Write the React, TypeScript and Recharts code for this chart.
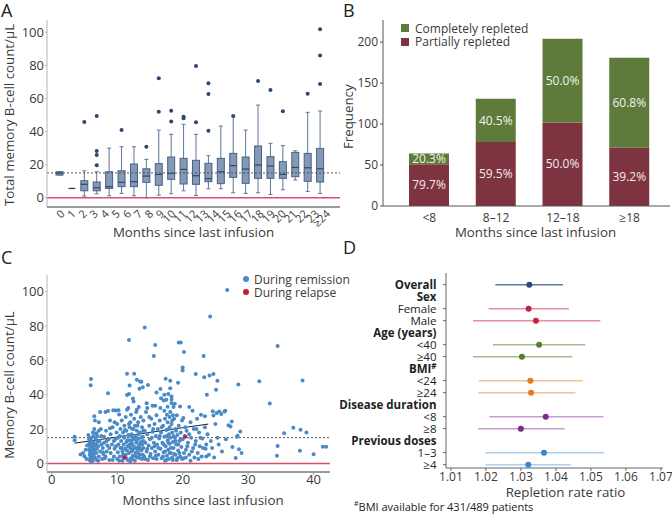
import React from 'react'
import {
  ComposedChart, BarChart, ScatterChart, Bar, Scatter, XAxis, YAxis,
  ReferenceLine, ErrorBar, LabelList, Legend, Label,
} from 'recharts'

const FONT = '"Open Sans", "Noto Sans", sans-serif'
const INK = '#3a3a3a'
const AXIS_GRAY = '#9a9a9a'
const ZERO_RED = '#d8506a'

// ---------- A: box plots by month ----------
const monthLabels = ['0', '1', '2', '3', '4', '5', '6', '7', '8', '9', '10', '11', '12', '13', '14', '15', '16', '17', '18', '19', '20', '21', '22', '23', '≥24']
const boxLow = [13.7, 5.5, 1.0, 2.4, 1.2, 2.6, 1.2, 0.0, 1.6, 2.4, 4.2, 1.4, 5.4, 5.4, 3.0, 2.6, 3.0, 2.0, 4.8, 10.7, 3.8, 2.6]
const boxQ1 = [13.7, 5.6, 4.2, 4.2, 5.6, 6.7, 6.7, 9.3, 7.5, 11.1, 8.3, 8.1, 9.7, 8.5, 12.3, 8.7, 11.7, 11.7, 11.7, 12.7, 9.9, 9.5]
const boxMed = [14.8, 5.6, 8.1, 6.0, 6.7, 9.3, 9.7, 13.1, 14.1, 14.7, 17.1, 13.3, 11.5, 15.7, 19.4, 17.3, 19.8, 19.2, 14.1, 18.3, 18.1, 17.5]
const boxQ3 = [15.7, 5.6, 10.3, 9.5, 15.7, 16.3, 20.4, 17.5, 20.6, 24.6, 23.8, 22.6, 20.8, 23.8, 26.8, 24.6, 31.3, 24.8, 21.8, 27.4, 26.8, 29.8]
const boxHigh = [15.7, 5.7, 16.3, 15.7, 30.0, 30.8, 30.8, 23.2, 40.9, 38.3, 44.4, 38.3, 25.4, 43.3, 49.0, 40.9, 56.0, 32.9, 31.5, 28.4, 51.6, 52.4]
const boxOutliers = [
  [], [], [45.8], [49.4, 28.2, 25.8, 19.6], [], [40.9], [], [30.8], [72.2, 52.0], [52.6, 46.0],
  [49.0, 48.0], [79.6, 45.6], [69.2, 62.7, 40.5], [], [49.4], [], [70.6], [65.1], [52.2], [], [62.9],
  [101.8, 85.9, 68.8],
]
const boxRows = boxLow.map((lo, k) => ({
  k, lo, q1: boxQ1[k], med: boxMed[k], q3: boxQ3[k], hi: boxHigh[k], out: boxOutliers[k],
}))

// ---------- B: repletion by interval ----------
const freqBins = ['<8', '8–12', '12–18', '≥18']
const partialCounts = [51, 78, 102, 71]
const completeCounts = [13, 53, 102, 110]
const freqRows = freqBins.map((bin, i) => {
  const total = partialCounts[i] + completeCounts[i]
  return {
    bin,
    partial: partialCounts[i],
    complete: completeCounts[i],
    partialPct: ((partialCounts[i] / total) * 100).toFixed(1) + '%',
    completePct: ((completeCounts[i] / total) * 100).toFixed(1) + '%',
  }
})

// ---------- C: scatter ----------
const remissionPts: number[][] = [
  [3.5, 15.5], [3.5, 13.5], [4.4, 5.2], [4.8, 6], [5, 4.2], [5.3, 2.5], [5.2, 8], [5.4, 10.5],
  [5.6, 16.5], [5.7, 14], [5.8, 12], [5.8, 10], [5.7, 8], [5.9, 6.5], [5.8, 5], [5.9, 3.5], [5.8, 2], [6, 1],
  [6.0, 15], [6.1, 13], [6.1, 11], [6.0, 9.5], [6.2, 7.5], [6.1, 6], [6.2, 4.5], [6.1, 3], [6.3, 1.5], [6.3, 9],
  [6.4, 12], [6.4, 16], [6.5, 10], [6.5, 5.5], [6.6, 3.5], [6.6, 8], [6.7, 14.5], [6.8, 6], [6.9, 2], [6.7, 11],
  [6.5, 20], [6.6, 25], [6.5, 27.5], [6, 49.2], [5.95, 45.5], [7, 16], [7.1, 10], [7.2, 4], [7.3, 13], [7.4, 7],
  [5.9, 7.2], [6.0, 4], [6.2, 2.5], [6.3, 5.8], [6.4, 7], [6.0, 12.2], [5.7, 11], [6.9, 8.5], [7.0, 12.5], [7.1, 1.5],
  [7.2, 19], [6.8, 17.5], [6.3, 18],
  [7.5, 20], [7.6, 16], [7.7, 2.5], [7.8, 9], [7.9, 5.5], [8, 12], [8, 15.5], [8.1, 3], [8.2, 30], [8.3, 19],
  [8.4, 7], [8.5, 10.5], [8.6, 40.8], [8.6, 30.5], [8.7, 14], [8.8, 2], [8.9, 25], [9, 6], [9, 17], [7.4, 29.9],
  [7.2, 24], [7.6, 11], [7.8, 6.5], [8.2, 4], [8.4, 13], [8.8, 9], [8.9, 20.5],
  [9.2, 11], [9.3, 21], [9.4, 31], [9.5, 4], [9.6, 8.5], [9.7, 14], [9.8, 30.8], [9.9, 18], [10, 2.5], [10, 23],
  [10.1, 6.5], [10.2, 31], [10.2, 11], [10.3, 28.5], [10.4, 16], [10.4, 4], [10.5, 20], [10.5, 9],
  [9.3, 2], [9.5, 13], [9.8, 10], [10.1, 15], [10.3, 1.5], [9.6, 24],
  [10.6, 13], [10.7, 25], [10.8, 1.5], [10.8, 7], [10.9, 18], [11, 11], [11, 3.5], [11.1, 22], [11.1, 15], [11.2, 8.5],
  [11.3, 5], [11.3, 27], [11.4, 12.5], [11.4, 19], [11.5, 39.8], [11.5, 31.2], [11.5, 52.2], [11.6, 2], [11.6, 10],
  [11.7, 16.5], [11.7, 32.2], [11.8, 71.9], [11.8, 40.4], [11.8, 6], [11.9, 45.4], [11.9, 21], [12, 13.5], [12, 24],
  [12, 9], [12.1, 28.3], [12.1, 3],
  [10.7, 9], [10.9, 5], [11, 15.5], [11.2, 19.5], [11.4, 3], [11.5, 7.5], [11.6, 13.5], [11.8, 23], [11.9, 11], [12, 1],
  [12.2, 17], [12.2, 7], [12.3, 11], [12.3, 20], [12.4, 37.8], [12.4, 4.5], [12.5, 36.1], [12.5, 14], [12.6, 52.2],
  [12.6, 26], [12.6, 9.5], [12.7, 22], [12.7, 1.5], [12.8, 16], [12.8, 6], [12.9, 12], [12.9, 30], [13, 31.2],
  [13, 48.7], [13, 19], [13.1, 8], [13.1, 3.5], [13.2, 24], [13.2, 14.5], [13.3, 32.8], [13.3, 10], [13.4, 43.5],
  [13.4, 5], [13.5, 47.7], [13.5, 18], [13.6, 27], [13.6, 12.5], [13.7, 47.5], [13.7, 7.5], [13.8, 21], [13.8, 2.5],
  [13.9, 44.4], [13.9, 15.5], [14, 9], [14, 25],
  [12.1, 16], [12.2, 12], [12.3, 2.5], [12.4, 8], [12.5, 20], [12.6, 15], [12.8, 4], [12.9, 9], [13, 13], [13.1, 22],
  [13.2, 6], [13.3, 17], [13.4, 11], [13.5, 3], [13.6, 8.5], [13.7, 15], [13.8, 11], [13.9, 5], [14, 19], [14, 13],
  [14.1, 4], [14.2, 79.1], [14.2, 19], [14.3, 12], [14.4, 30], [14.5, 35.1], [14.5, 7], [14.6, 32.2], [14.6, 17],
  [14.7, 45.6], [14.7, 2], [14.8, 10.5], [14.9, 22], [15, 14], [15.1, 5.5], [15.2, 26], [15.3, 9], [15.4, 33.6],
  [15.4, 18.5], [15.5, 3], [15.6, 62.6], [15.6, 12], [15.7, 23], [15.8, 69], [15.8, 33.6], [15.8, 7], [15.9, 16],
  [16, 41.3], [16, 2.5], [16, 28],
  [14.3, 2.5], [14.6, 8.5], [15, 4], [15.3, 15], [15.7, 10], [15.9, 4.5], [14.9, 27], [15.5, 20],
  [16.1, 11], [16.2, 20], [16.3, 5], [16.4, 14.5], [16.5, 25], [16.6, 43.3], [16.6, 32.2], [16.6, 8.5], [16.7, 38],
  [16.7, 18], [16.8, 3], [16.9, 12], [17, 22], [17.1, 36.7], [17.1, 6.5], [17.2, 30.7], [17.2, 15.5], [17.3, 26],
  [17.3, 1.5], [17.4, 49.3], [17.4, 10], [17.5, 37], [17.5, 19.5], [17.6, 28.3], [17.6, 4.5], [17.7, 13.5], [17.7, 24],
  [17.8, 40.4], [17.8, 8], [17.9, 17], [17.9, 2.5], [18, 27], [18, 21], [18, 11.5],
  [16.3, 9], [16.5, 16], [16.8, 21], [17, 4], [17.1, 11], [17.3, 7], [17.5, 2], [17.6, 16], [17.8, 12], [17.9, 20],
  [18, 6], [17.7, 33], [17.2, 40],
  [18.1, 48.1], [18.1, 43.8], [18.1, 15], [18.2, 6], [18.3, 39], [18.3, 37], [18.3, 35], [18.3, 23], [18.4, 3.5],
  [18.4, 18], [18.5, 12.5], [18.6, 32.8], [18.6, 9], [18.7, 26], [18.8, 34.7], [18.8, 15], [18.9, 5], [18.9, 20],
  [19, 11], [19.1, 2], [19.1, 28], [19.2, 16.5], [19.3, 46.9], [19.3, 7.5], [19.4, 70.4], [19.4, 22], [19.5, 13],
  [19.6, 33.2], [19.6, 4], [19.7, 70.4], [19.7, 18], [19.8, 9.5], [19.9, 25], [20, 55.9], [20, 54.1], [20, 14],
  [20.1, 26.4], [20.1, 3],
  [18.2, 9], [18.4, 25], [18.5, 2], [18.6, 16], [18.7, 5.5], [18.9, 13], [19, 19], [19.2, 3], [19.3, 11], [19.5, 6],
  [19.7, 14], [19.9, 2.5], [18.1, 30], [18.5, 28],
  [20.2, 64.8], [20.3, 16], [20.4, 21], [20.5, 8], [20.6, 19], [20.8, 12], [21, 32.8], [21, 5], [21.2, 24], [21.3, 15],
  [21.5, 30.7], [21.6, 9], [21.7, 20], [21.8, 3.5], [22, 52], [22, 13], [22.2, 26], [22.3, 6], [22.5, 18], [22.6, 10],
  [22.8, 28.3], [22.9, 4], [23, 14.5], [23.2, 62.6], [23.3, 50.2], [23.4, 27.4], [23.4, 21], [23.5, 8.5], [23.6, 11],
  [20.5, 3.5], [20.7, 10], [21, 17], [21.4, 7], [21.9, 11], [22.4, 2.5], [22.7, 15], [23.1, 9], [23.6, 4], [20.2, 6],
  [21.2, 1.5], [22.1, 20],
  [23.7, 40], [23.8, 17], [24, 5], [24.1, 51.2], [24.2, 85.5], [24.3, 13], [24.5, 9], [24.6, 30.3], [24.7, 52],
  [24.7, 27.9], [24.8, 3.5], [25, 22.9], [25.1, 42.9], [25.2, 29.3], [25.3, 48.1], [25.3, 15], [25.5, 11], [25.6, 30.2],
  [25.9, 28.7], [26, 7], [26.4, 30.2], [26.5, 30.7], [26.6, 14], [26.8, 101], [27, 22.2], [27.3, 21.5], [27.5, 24.4],
  [27.6, 9.5], [28.1, 3.1], [28.4, 16.1], [28.5, 45.9], [28.6, 8.3], [28.8, 18.6], [29, 6], [28.3, 15.5],
  [31.7, 47.9], [33.3, 34.9], [34.4, 4.5], [34.5, 68.4], [34.5, 10.1], [35.5, 17.6], [36.9, 20.7], [37.9, 7.4],
  [38, 19.6], [38.3, 48.3], [38.9, 18], [40, 5.4], [41.4, 9.7], [41.9, 9.7],
]
const relapsePts: number[][] = [[11.1, 3.4], [20.4, 15.5]]
const trendEnds = [[3.5, 11.8], [23.9, 22.9]]
const remissionData = remissionPts.map(([m, v]) => ({ m, v }))
const relapseData = relapsePts.map(([m, v]) => ({ m, v }))

// ---------- D: forest plot ----------
const forestLabels = ['Overall', 'Sex', 'Female', 'Male', 'Age (years)', '<40', '≥40', 'BMI', '<24', '≥24', 'Disease duration', '<8', '≥8', 'Previous doses', '1–3', '≥4']
const forestBold = [true, true, false, false, true, false, false, true, false, false, true, false, false, true, false, false]
const forestGroup = ['overall', '', 'sex', 'sex', '', 'age', 'age', '', 'bmi', 'bmi', '', 'dd', 'dd', '', 'prev', 'prev']
const forestEst = [1.0324, 0, 1.0322, 1.0343, 0, 1.0352, 1.0303, 0, 1.0327, 1.0329, 0, 1.0371, 1.0300, 0, 1.0366, 1.0321]
const forestLow = [1.0227, 0, 1.0208, 1.0163, 0, 1.0220, 1.0163, 0, 1.0180, 1.0178, 0, 1.0210, 1.0178, 0, 1.0199, 1.0199]
const forestHigh = [1.0420, 0, 1.0437, 1.0527, 0, 1.0484, 1.0447, 0, 1.0477, 1.0456, 0, 1.0536, 1.0425, 0, 1.0538, 1.0442]
const groupColors: Record<string, [string, string]> = {
  overall: ['#2b4a7e', '#5d79a6'],
  sex: ['#c0263f', '#e7909f'],
  age: ['#5b7d33', '#a6ba8c'],
  bmi: ['#e07b22', '#f4c197'],
  dd: ['#7d2a8c', '#c89bd4'],
  prev: ['#3f86cc', '#abcfee'],
}
const forestRows = Object.keys(groupColors).map((g) => ({
  g,
  rows: forestGroup
    .map((name, row) => ({ name, row, est: forestEst[row], err: [forestEst[row] - forestLow[row], forestHigh[row] - forestEst[row]] }))
    .filter((r) => r.name === g),
}))

// ---------- helpers ----------
const yTitle = (text: string, baseX: number, dy = 0) => (props: any) => {
  const vb = props.viewBox
  const cy = vb.y + vb.height / 2 + dy
  return (
    <text x={baseX} y={cy} transform={`rotate(-90 ${baseX} ${cy})`} textAnchor="middle" fontSize={13.3} fill={INK}>
      {text}
    </text>
  )
}
const xTitle = (text: string, dyFromAxis: number, dx = 0) => (props: any) => {
  const vb = props.viewBox
  return (
    <text x={vb.x + vb.width / 2 + dx} y={vb.y + dyFromAxis} textAnchor="middle" fontSize={13.3} fill={INK}>
      {text}
    </text>
  )
}
const dot = (fill: string, r: number) => (p: any) => <circle cx={p.cx} cy={p.cy} r={r} fill={fill} />

function BoxShape(props: any) {
  const { x, y, width, height, payload } = props
  if (!payload) return null
  const top = Math.min(y, y + height)
  const unit = Math.abs(height) / (payload.hi - payload.lo)
  const py = (v: number) => top + (payload.hi - v) * unit
  const cx = x + width / 2
  return (
    <g>
      <line x1={cx} x2={cx} y1={py(payload.hi)} y2={py(payload.q3)} stroke="#5f7598" />
      <line x1={cx} x2={cx} y1={py(payload.q1)} y2={py(payload.lo)} stroke="#5f7598" />
      <line x1={cx - 2} x2={cx + 2} y1={py(payload.hi)} y2={py(payload.hi)} stroke="#5f7598" />
      <line x1={cx - 2} x2={cx + 2} y1={py(payload.lo)} y2={py(payload.lo)} stroke="#5f7598" />
      <rect x={x} y={py(payload.q3)} width={width} height={py(payload.q1) - py(payload.q3)} fill="#8399b6" stroke="#4a6185" />
      <line x1={x} x2={x + width} y1={py(payload.med)} y2={py(payload.med)} stroke="#2e4672" strokeWidth={1.2} />
      {payload.out.map((v: number, i: number) => (
        <circle key={i} cx={cx} cy={py(v)} r={2} fill="#2e4672" />
      ))}
    </g>
  )
}

function ForestTick(props: any) {
  const { x, y, payload } = props
  const i = payload.value
  const bold = forestBold[i]
  return (
    <g>
      {!forestGroup[i] ? null : <line x1={x - 3} x2={x} y1={y} y2={y} stroke="#666" />}
      <text x={x - 9.5} y={y} dy="0.36em" textAnchor="end" fontSize={11.5} fill="#222" fontWeight={bold ? 700 : 400}>
        {forestLabels[i]}
        {i === 7 ? <tspan fontSize={8} dy={-4}>#</tspan> : null}
      </text>
    </g>
  )
}

const scatterLegend = (props: any) => (
  <div style={{ fontSize: 12, color: INK, whiteSpace: 'nowrap' }}>
    {[...props.payload].reverse().map((p: any) => (
      <div key={p.value} style={{ display: 'flex', alignItems: 'center', height: 13 }}>
        <span style={{ width: 6, height: 6, borderRadius: 3, background: p.color, marginRight: 5 }} />
        {p.value}
      </div>
    ))}
  </div>
)
const barLegend = (props: any) => (
  <div style={{ fontSize: 12, color: INK, whiteSpace: 'nowrap' }}>
    {props.payload.map((p: any) => (
      <div key={p.value} style={{ display: 'flex', alignItems: 'center', height: 13.4 }}>
        <span style={{ width: 8, height: 8, background: p.color, marginRight: 6 }} />
        {p.value}
      </div>
    ))}
  </div>
)

const letter = (ch: string, left: number, top: number) => (
  <div style={{ position: 'absolute', left, top, fontSize: 18, lineHeight: '20px', color: '#222' }}>{ch}</div>
)

export default function App() {
  return (
    <div style={{ position: 'relative', width: 672, height: 524, background: '#fff', fontFamily: FONT, overflow: 'hidden' }}>
      <style>{'body{margin:0}'}</style>

      <div style={{ position: 'absolute', left: 0, top: 0 }}>
        <ComposedChart width={340} height={245} data={boxRows} margin={{ top: 20, right: 0, bottom: 0, left: 0 }}>
          <XAxis
            xAxisId="lab" dataKey="labelPos" type="number" domain={[-1.175, 25.32]} allowDataOverflow
            ticks={monthLabels.map((_, i) => i)} interval={0} tickFormatter={(i: number) => monthLabels[i]}
            angle={-45} textAnchor="end" tickLine={false} tickSize={2} tickMargin={0} height={38}
            axisLine={{ stroke: AXIS_GRAY, strokeWidth: 2 }} tick={{ fontSize: 11, fill: INK }}
          >
            <Label content={xTitle('Months since last infusion', 29.5)} />
          </XAxis>
          <XAxis xAxisId="box" dataKey="k" type="category" hide height={0} padding={{ left: 6, right: 14 }} />
          <YAxis
            type="number" domain={[-5.6, 107.4]} allowDataOverflow ticks={[0, 20, 40, 60, 80, 100]} width={47}
            tickSize={2} tickMargin={1} axisLine={{ stroke: '#b5b5b5' }} tickLine={{ stroke: '#b5b5b5' }}
            tick={{ fontSize: 13, fill: INK }}
          >
            <Label content={yTitle('Total memory B-cell count/µL', 13.5, 1.5)} />
          </YAxis>
          <ReferenceLine xAxisId="lab" y={15} stroke="#555" strokeDasharray="2 2" />
          <ReferenceLine xAxisId="lab" y={0} stroke={ZERO_RED} strokeWidth={1.5} />
          <Bar xAxisId="box" dataKey={(d: any) => [d.lo, d.hi]} barSize={7} shape={<BoxShape />} isAnimationActive={false} />
        </ComposedChart>
      </div>

      <div style={{ position: 'absolute', left: 340, top: 0 }}>
        <BarChart width={332} height={245} data={freqRows} margin={{ top: 20, right: 2, bottom: 0, left: 0 }}>
          <XAxis
            dataKey="bin" tickLine={false} axisLine={{ stroke: '#555' }} padding={{ left: 13, right: 7 }} height={39}
            tickSize={6} tickMargin={1} tick={{ fontSize: 12, fill: INK }}
          >
            <Label content={xTitle('Months since last infusion', 30.7, 9)} />
          </XAxis>
          <YAxis
            domain={[0, 227]} allowDataOverflow ticks={[0, 50, 100, 150, 200]} width={43} tickSize={3} tickMargin={2}
            axisLine={{ stroke: '#555' }} tickLine={{ stroke: '#555' }} tick={{ fontSize: 12, fill: INK }}
          >
            <Label content={yTitle('Frequency', 13.5, 3.7)} />
          </YAxis>
          <Bar dataKey="partial" name="Partially repleted" stackId="s" fill="#7d3440" barSize={40} isAnimationActive={false}>
            <LabelList dataKey="partialPct" position="center" fill="#f4eaea" fontSize={12} />
          </Bar>
          <Bar dataKey="complete" name="Completely repleted" stackId="s" fill="#5e7b3c" barSize={40} isAnimationActive={false}>
            <LabelList dataKey="completePct" position="center" fill="#f2f2ea" fontSize={12} />
          </Bar>
          <Legend
            layout="vertical" align="center" verticalAlign="middle" content={barLegend}
            wrapperStyle={{ left: 61, top: 21.6, width: 'auto' }}
          />
        </BarChart>
      </div>

      <div style={{ position: 'absolute', left: 0, top: 250 }}>
        <ScatterChart width={340} height={274} margin={{ top: 25, right: 10, bottom: 0, left: 0 }}>
          <XAxis
            type="number" dataKey="m" domain={[-0.72, 42.5]} allowDataOverflow ticks={[0, 10, 20, 30, 40]} height={52}
            tickSize={3} tickMargin={0} axisLine={{ stroke: AXIS_GRAY, strokeWidth: 2 }} tickLine={{ stroke: AXIS_GRAY }}
            tick={{ fontSize: 13, fill: INK }}
          >
            <Label content={xTitle('Months since last infusion', 33, 14.5)} />
          </XAxis>
          <YAxis
            type="number" dataKey="v" domain={[-5, 109.7]} allowDataOverflow ticks={[0, 20, 40, 60, 80, 100]} width={47}
            tickSize={2} tickMargin={1} axisLine={{ stroke: '#b5b5b5' }} tickLine={{ stroke: '#b5b5b5' }}
            tick={{ fontSize: 13, fill: INK }}
          >
            <Label content={yTitle('Memory B-cell count/µL', 13.5, 11.5)} />
          </YAxis>
          <ReferenceLine y={15} stroke="#555" strokeDasharray="2 2" />
          <ReferenceLine y={0} stroke={ZERO_RED} strokeWidth={1.5} />
          <Scatter name="During remission" data={remissionData} fill="#4a8ac6" shape={dot('#4a8ac6', 2)} isAnimationActive={false} />
          <Scatter name="During relapse" data={relapseData} fill="#c3202e" shape={dot('#c3202e', 2)} isAnimationActive={false} />
          <ReferenceLine
            segment={trendEnds.map(([x, y]) => ({ x, y }))} stroke="#222" strokeWidth={1}
          />
          <Legend
            layout="vertical" align="center" verticalAlign="middle" content={scatterLegend}
            wrapperStyle={{ left: 243, top: 22.5, width: 'auto' }}
          />
        </ScatterChart>
      </div>

      <div style={{ position: 'absolute', left: 340, top: 250 }}>
        <ScatterChart width={332} height={274} margin={{ top: 23, right: 9, bottom: 0, left: 0 }}>
          <XAxis
            type="number" dataKey="est" domain={[1.0086, 1.0706]} allowDataOverflow
            ticks={[1.01, 1.02, 1.03, 1.04, 1.05, 1.06, 1.07]} tickFormatter={(v: number) => v.toFixed(2)} height={56}
            tickSize={3} tickMargin={1} axisLine={{ stroke: '#666' }} tickLine={{ stroke: '#666' }}
            tick={{ fontSize: 12, fill: INK }}
          >
            <Label content={xTitle('Repletion rate ratio', 28.5, 11)} />
          </XAxis>
          <YAxis
            type="number" dataKey="row" reversed domain={[-0.975, 15.28]} allowDataOverflow
            ticks={forestLabels.map((_, i) => i)} interval={0} width={106} tickSize={0} tickMargin={0}
            tickLine={false} axisLine={{ stroke: '#666' }} tick={<ForestTick />}
          />
          {forestRows.map(({ g, rows }) => (
            <Scatter key={g} data={rows} fill={groupColors[g][0]} shape={dot(groupColors[g][0], 3)} isAnimationActive={false}>
              <ErrorBar dataKey="err" direction="x" width={0} stroke={groupColors[g][1]} strokeWidth={1.5} />
            </Scatter>
          ))}
        </ScatterChart>
      </div>

      <div style={{ position: 'absolute', left: 354, top: 499, fontSize: 11, color: '#222', whiteSpace: 'nowrap' }}>
        <sup style={{ fontSize: 7 }}>#</sup>BMI available for 431/489 patients
      </div>

      {letter('A', 1, 0)}
      {letter('B', 343, 0)}
      {letter('C', 1, 247)}
      {letter('D', 343, 237)}
    </div>
  )
}
